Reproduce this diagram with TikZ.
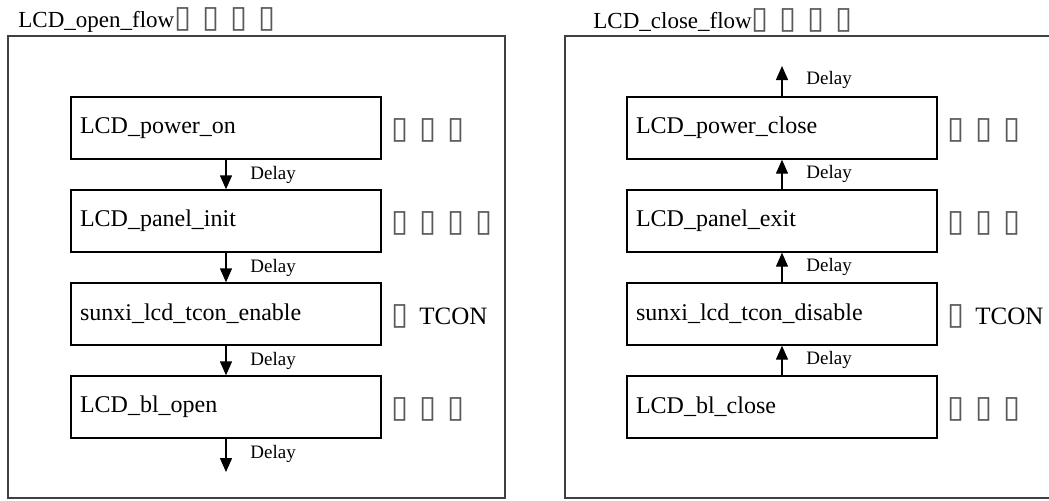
\documentclass[tikz,border=0pt]{standalone}
\usepackage{fontspec}
\setmainfont{Liberation Serif}
\newfontfamily\tofufont{DejaVu Sans}
\usetikzlibrary{arrows.meta}
\newcommand{\tofu}[1]{{\color{black!65}\tofufont\fontsize{15.5}{17}\selectfont #1}}
\newcommand{\tgap}{\hspace{5.5pt}}
\tikzset{
  flowbox/.style={draw, line width=0.7pt, minimum width=155pt, minimum height=31pt,
    text width=146pt, inner xsep=4.5pt, align=left, font=\fontsize{12}{14}\selectfont},
  sidenote/.style={anchor=west, inner sep=0pt, font=\fontsize{12.5}{14}\selectfont},
  delaynote/.style={anchor=west, inner sep=0pt, font=\fontsize{9.5}{11}\selectfont},
  flowtitle/.style={anchor=west, inner sep=0pt, font=\fontsize{11.5}{13}\selectfont},
  flowarrow/.style={-{Triangle[width=6pt,length=7pt]}, line width=0.7pt},
  frame/.style={draw=black!75, line width=0.9pt}
}
\begin{document}
\begin{tikzpicture}[x=0.5pt, y=-0.5pt]
\useasboundingbox (0,0) rectangle (1049,500);
\clip (0,0) rectangle (1049,500);
% open flow
\node[flowtitle] (opentitle) at (18,20) {LCD\_open\_flow\tofu{▯\tgap▯\tgap▯\tgap▯}};
\draw[frame] (8,36) rectangle (505,498);
\node[flowbox] (pwron) at (226,128) {LCD\_power\_on};
\node[flowbox] (panelinit) at (226,221) {LCD\_panel\_init};
\node[flowbox] (tconen) at (226,314) {sunxi\_lcd\_tcon\_enable};
\node[flowbox] (blopen) at (226,407) {LCD\_bl\_open};
\node[sidenote] (pwronnote) at (391,130) {\tofu{▯\tgap▯\tgap▯}};
\node[sidenote] (panelinitnote) at (391,223) {\tofu{▯\tgap▯\tgap▯\tgap▯}};
\node[sidenote] (tconennote) at (391,316) {\tofu{▯}\tgap TCON};
\node[sidenote] (blopennote) at (391,409) {\tofu{▯\tgap▯\tgap▯}};
\coordinate (opentail) at (226,472);
\draw[flowarrow] (pwron) -- (panelinit);
\draw[flowarrow] (panelinit) -- (tconen);
\draw[flowarrow] (tconen) -- (blopen);
\draw[flowarrow] (blopen) -- (opentail);
\node[delaynote] (opendelay1) at (250,175) {Delay};
\node[delaynote] (opendelay2) at (250,268) {Delay};
\node[delaynote] (opendelay3) at (250,361) {Delay};
\node[delaynote] (opendelay4) at (250,454) {Delay};
% close flow
\node[flowtitle] (closetitle) at (593,20) {LCD\_close\_flow\tofu{▯\tgap▯\tgap▯\tgap▯}};
\draw[frame] (565,36) rectangle (1070,498);
\node[flowbox] (pwrclose) at (782,128) {LCD\_power\_close};
\node[flowbox] (panelexit) at (782,221) {LCD\_panel\_exit};
\node[flowbox] (tcondis) at (782,314) {sunxi\_lcd\_tcon\_disable};
\node[flowbox] (blclose) at (782,407) {LCD\_bl\_close};
\node[sidenote] (pwrclosenote) at (947,130) {\tofu{▯\tgap▯\tgap▯}};
\node[sidenote] (panelexitnote) at (947,223) {\tofu{▯\tgap▯\tgap▯}};
\node[sidenote] (tcondisnote) at (947,316) {\tofu{▯}\tgap TCON};
\node[sidenote] (blclosenote) at (947,409) {\tofu{▯\tgap▯\tgap▯}};
\coordinate (closetail) at (782,66);
\draw[flowarrow] (blclose) -- (tcondis);
\draw[flowarrow] (tcondis) -- (panelexit);
\draw[flowarrow] (panelexit) -- (pwrclose);
\draw[flowarrow] (pwrclose) -- (closetail);
\node[delaynote] (closedelay1) at (806,80) {Delay};
\node[delaynote] (closedelay2) at (806,174) {Delay};
\node[delaynote] (closedelay3) at (806,267) {Delay};
\node[delaynote] (closedelay4) at (806,360) {Delay};
\end{tikzpicture}
\end{document}
